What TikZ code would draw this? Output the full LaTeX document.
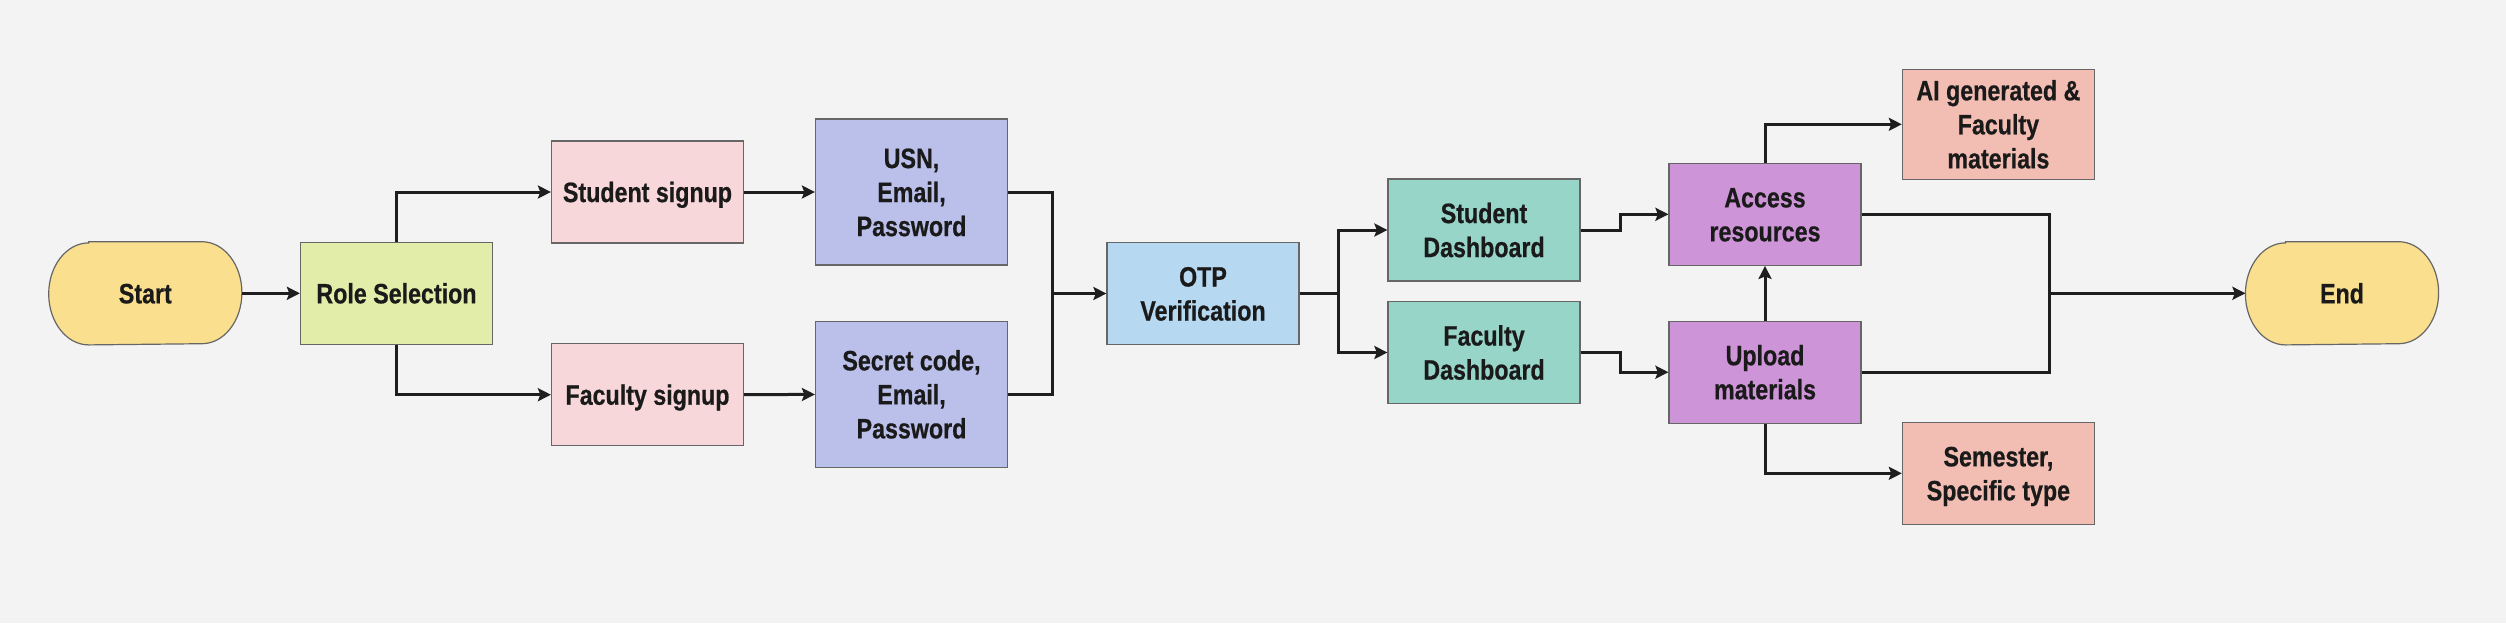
\documentclass[tikz,border=0pt]{standalone}
\usepackage{fontspec}
\setmainfont{Liberation Sans}[FakeStretch=0.83, BoldFeatures={FakeBold=0.6}]
\usetikzlibrary{arrows.meta}
\definecolor{bg}{HTML}{F3F3F3}
\definecolor{cyel}{HTML}{F9DF8E}
\definecolor{cgrn}{HTML}{E1EDA8}
\definecolor{cpnk}{HTML}{F8D7DA}
\definecolor{clav}{HTML}{BBC0EA}
\definecolor{cblu}{HTML}{B6D8F0}
\definecolor{cteal}{HTML}{96D5C8}
\definecolor{cpur}{HTML}{CE94D8}
\definecolor{csal}{HTML}{F2BDB2}
\definecolor{cbord}{HTML}{666666}
\definecolor{ctext}{HTML}{1A1A1A}
\definecolor{cline}{HTML}{1E1E1E}
\newcommand{\ms}{\rule[-0.234em]{0pt}{1.184em}}
\tikzset{
  box/.style={rectangle, draw=cbord, line width=0.6pt, minimum width=96pt, minimum height=51pt,
    inner sep=2pt, align=center, text=ctext, font=\bfseries\fontsize{14}{17}\selectfont},
  term/.style={box, draw=none, fill=none},
  conn/.style={draw=cline, line width=1.5pt},
  arr/.style={conn, -{Stealth[length=6.5pt,width=6.5pt,inset=1.2pt]}},
}
\begin{document}
\begin{tikzpicture}[x=0.5pt,y=-0.5pt]
\fill[bg] (0,0) rectangle (2506,623);
\useasboundingbox (0,0) rectangle (2506,623);

% terminators
\node[term] (start) at (145.3,293.3) {};
\node[term] (end) at (2342,293.3) {};
\foreach \n in {start,end}{
  \fill[cyel, draw=cbord, line width=0.6pt]
    ([xshift=20pt]\n.north west) -- ([xshift=-20pt]\n.north east)
    arc[start angle=90,end angle=-90,x radius=20pt,y radius=25.5pt]
    -- ([xshift=20pt]\n.south west)
    arc[start angle=270,end angle=90,x radius=20pt,y radius=25.5pt] -- cycle;
}
\node[term] (starttext) at (start) {\ms Start};
\node[term] (endtext) at (end) {\ms End};

\node[box, fill=cgrn] (role) at (396.5,293.3) {\ms Role Selection};
\node[box, fill=cpnk] (ssign) at (647.5,192) {\ms Student signup};
\node[box, fill=cpnk] (fsign) at (647.5,394.7) {\ms Faculty signup};
\node[box, fill=clav, minimum height=73pt] (usn) at (911.5,192) {\ms USN,\\\ms Email,\\\ms Password};
\node[box, fill=clav, minimum height=73pt] (sec) at (911.5,394.3) {\ms Secret code,\\\ms Email,\\\ms Password};
\node[box, fill=cblu] (otp) at (1203,293.5) {\ms OTP\\\ms Verification};
\node[box, fill=cteal] (sdash) at (1484,230) {\ms Student\\\ms Dashboard};
\node[box, fill=cteal] (fdash) at (1484,352.5) {\ms Faculty\\\ms Dashboard};
\node[box, fill=cpur] (acc) at (1765,214.3) {\ms Access\\\ms resources};
\node[box, fill=cpur] (upl) at (1765,372.2) {\ms Upload\\\ms materials};
\node[box, fill=csal, minimum height=55pt] (ai) at (1998.4,124.3) {\ms AI generated \&\\\ms Faculty\\\ms materials};
\node[box, fill=csal] (sem) at (1998.4,473.3) {\ms Semester,\\\ms Specific type};

\coordinate (m1) at (1052,293.5);
\coordinate (s1) at (1338.5,293.5);
\coordinate (x1) at (1620,0);
\coordinate (m2) at (2049,293.3);

\draw[arr] (start) -- (role);
\draw[arr] (role.north) |- (ssign.west);
\draw[arr] (role.south) |- (fsign.west);
\draw[arr] (ssign) -- (usn);
\draw[arr] (fsign) -- (sec);
\draw[conn] (usn.east) -| (m1) |- (sec.east);
\draw[arr] (m1) -- (otp.west);
\draw[conn] (otp.east) -- (s1);
\draw[arr] (s1) |- (sdash.west);
\draw[arr] (s1) |- (fdash.west);
\draw[arr] (sdash.east) -- (sdash.east -| x1) -- (acc.west -| x1) -- (acc.west);
\draw[arr] (fdash.east) -- (fdash.east -| x1) -- (upl.west -| x1) -- (upl.west);
\draw[arr] (acc.north) |- (ai.west);
\draw[arr] (upl.south) |- (sem.west);
\draw[arr] (upl.north) -- (acc.south);
\draw[conn] (acc.east) -| (m2) |- (upl.east);
\draw[arr] (m2) -- (end.west);
\end{tikzpicture}
\end{document}
